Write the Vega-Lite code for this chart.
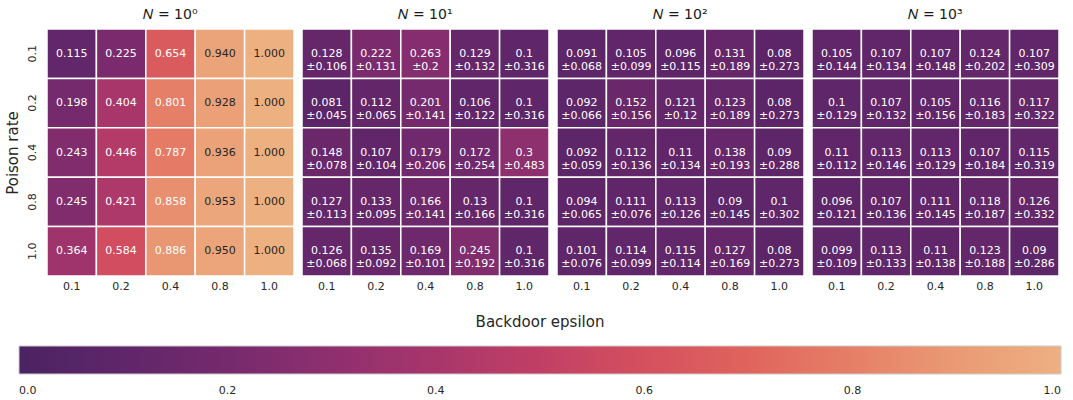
{
  "$schema": "https://vega.github.io/schema/vega-lite/v6.json",
  "padding": {"left": 5, "top": 8, "right": 5, "bottom": 5},
  "background": "white",
  "config": {
    "font": "DejaVu Sans",
    "view": {"stroke": null},
    "axis": {"domain": false, "ticks": false, "grid": false, "labelFontSize": 11, "labelColor": "#262626", "titleColor": "#262626", "titleFontWeight": "normal"},
    "header": {"labelFont": "DejaVu Sans"}
  },
  "data": {"values": [
    {"N":"𝑁 = 10⁰","r":"0.1","e":"0.1","v":0.115,"t":"0.115"},
    {"N":"𝑁 = 10⁰","r":"0.1","e":"0.2","v":0.225,"t":"0.225"},
    {"N":"𝑁 = 10⁰","r":"0.1","e":"0.4","v":0.654,"t":"0.654"},
    {"N":"𝑁 = 10⁰","r":"0.1","e":"0.8","v":0.940,"t":"0.940"},
    {"N":"𝑁 = 10⁰","r":"0.1","e":"1.0","v":1.000,"t":"1.000"},
    {"N":"𝑁 = 10⁰","r":"0.2","e":"0.1","v":0.198,"t":"0.198"},
    {"N":"𝑁 = 10⁰","r":"0.2","e":"0.2","v":0.404,"t":"0.404"},
    {"N":"𝑁 = 10⁰","r":"0.2","e":"0.4","v":0.801,"t":"0.801"},
    {"N":"𝑁 = 10⁰","r":"0.2","e":"0.8","v":0.928,"t":"0.928"},
    {"N":"𝑁 = 10⁰","r":"0.2","e":"1.0","v":1.000,"t":"1.000"},
    {"N":"𝑁 = 10⁰","r":"0.4","e":"0.1","v":0.243,"t":"0.243"},
    {"N":"𝑁 = 10⁰","r":"0.4","e":"0.2","v":0.446,"t":"0.446"},
    {"N":"𝑁 = 10⁰","r":"0.4","e":"0.4","v":0.787,"t":"0.787"},
    {"N":"𝑁 = 10⁰","r":"0.4","e":"0.8","v":0.936,"t":"0.936"},
    {"N":"𝑁 = 10⁰","r":"0.4","e":"1.0","v":1.000,"t":"1.000"},
    {"N":"𝑁 = 10⁰","r":"0.8","e":"0.1","v":0.245,"t":"0.245"},
    {"N":"𝑁 = 10⁰","r":"0.8","e":"0.2","v":0.421,"t":"0.421"},
    {"N":"𝑁 = 10⁰","r":"0.8","e":"0.4","v":0.858,"t":"0.858"},
    {"N":"𝑁 = 10⁰","r":"0.8","e":"0.8","v":0.953,"t":"0.953"},
    {"N":"𝑁 = 10⁰","r":"0.8","e":"1.0","v":1.000,"t":"1.000"},
    {"N":"𝑁 = 10⁰","r":"1.0","e":"0.1","v":0.364,"t":"0.364"},
    {"N":"𝑁 = 10⁰","r":"1.0","e":"0.2","v":0.584,"t":"0.584"},
    {"N":"𝑁 = 10⁰","r":"1.0","e":"0.4","v":0.886,"t":"0.886"},
    {"N":"𝑁 = 10⁰","r":"1.0","e":"0.8","v":0.950,"t":"0.950"},
    {"N":"𝑁 = 10⁰","r":"1.0","e":"1.0","v":1.000,"t":"1.000"},

    {"N":"𝑁 = 10¹","r":"0.1","e":"0.1","v":0.128,"t":"0.128\n±0.106"},
    {"N":"𝑁 = 10¹","r":"0.1","e":"0.2","v":0.222,"t":"0.222\n±0.131"},
    {"N":"𝑁 = 10¹","r":"0.1","e":"0.4","v":0.263,"t":"0.263\n±0.2"},
    {"N":"𝑁 = 10¹","r":"0.1","e":"0.8","v":0.129,"t":"0.129\n±0.132"},
    {"N":"𝑁 = 10¹","r":"0.1","e":"1.0","v":0.1,"t":"0.1\n±0.316"},
    {"N":"𝑁 = 10¹","r":"0.2","e":"0.1","v":0.081,"t":"0.081\n±0.045"},
    {"N":"𝑁 = 10¹","r":"0.2","e":"0.2","v":0.112,"t":"0.112\n±0.065"},
    {"N":"𝑁 = 10¹","r":"0.2","e":"0.4","v":0.201,"t":"0.201\n±0.141"},
    {"N":"𝑁 = 10¹","r":"0.2","e":"0.8","v":0.106,"t":"0.106\n±0.122"},
    {"N":"𝑁 = 10¹","r":"0.2","e":"1.0","v":0.1,"t":"0.1\n±0.316"},
    {"N":"𝑁 = 10¹","r":"0.4","e":"0.1","v":0.148,"t":"0.148\n±0.078"},
    {"N":"𝑁 = 10¹","r":"0.4","e":"0.2","v":0.107,"t":"0.107\n±0.104"},
    {"N":"𝑁 = 10¹","r":"0.4","e":"0.4","v":0.179,"t":"0.179\n±0.206"},
    {"N":"𝑁 = 10¹","r":"0.4","e":"0.8","v":0.172,"t":"0.172\n±0.254"},
    {"N":"𝑁 = 10¹","r":"0.4","e":"1.0","v":0.3,"t":"0.3\n±0.483"},
    {"N":"𝑁 = 10¹","r":"0.8","e":"0.1","v":0.127,"t":"0.127\n±0.113"},
    {"N":"𝑁 = 10¹","r":"0.8","e":"0.2","v":0.133,"t":"0.133\n±0.095"},
    {"N":"𝑁 = 10¹","r":"0.8","e":"0.4","v":0.166,"t":"0.166\n±0.141"},
    {"N":"𝑁 = 10¹","r":"0.8","e":"0.8","v":0.13,"t":"0.13\n±0.166"},
    {"N":"𝑁 = 10¹","r":"0.8","e":"1.0","v":0.1,"t":"0.1\n±0.316"},
    {"N":"𝑁 = 10¹","r":"1.0","e":"0.1","v":0.126,"t":"0.126\n±0.068"},
    {"N":"𝑁 = 10¹","r":"1.0","e":"0.2","v":0.135,"t":"0.135\n±0.092"},
    {"N":"𝑁 = 10¹","r":"1.0","e":"0.4","v":0.169,"t":"0.169\n±0.101"},
    {"N":"𝑁 = 10¹","r":"1.0","e":"0.8","v":0.245,"t":"0.245\n±0.192"},
    {"N":"𝑁 = 10¹","r":"1.0","e":"1.0","v":0.1,"t":"0.1\n±0.316"},

    {"N":"𝑁 = 10²","r":"0.1","e":"0.1","v":0.091,"t":"0.091\n±0.068"},
    {"N":"𝑁 = 10²","r":"0.1","e":"0.2","v":0.105,"t":"0.105\n±0.099"},
    {"N":"𝑁 = 10²","r":"0.1","e":"0.4","v":0.096,"t":"0.096\n±0.115"},
    {"N":"𝑁 = 10²","r":"0.1","e":"0.8","v":0.131,"t":"0.131\n±0.189"},
    {"N":"𝑁 = 10²","r":"0.1","e":"1.0","v":0.08,"t":"0.08\n±0.273"},
    {"N":"𝑁 = 10²","r":"0.2","e":"0.1","v":0.092,"t":"0.092\n±0.066"},
    {"N":"𝑁 = 10²","r":"0.2","e":"0.2","v":0.152,"t":"0.152\n±0.156"},
    {"N":"𝑁 = 10²","r":"0.2","e":"0.4","v":0.121,"t":"0.121\n±0.12"},
    {"N":"𝑁 = 10²","r":"0.2","e":"0.8","v":0.123,"t":"0.123\n±0.189"},
    {"N":"𝑁 = 10²","r":"0.2","e":"1.0","v":0.08,"t":"0.08\n±0.273"},
    {"N":"𝑁 = 10²","r":"0.4","e":"0.1","v":0.092,"t":"0.092\n±0.059"},
    {"N":"𝑁 = 10²","r":"0.4","e":"0.2","v":0.112,"t":"0.112\n±0.136"},
    {"N":"𝑁 = 10²","r":"0.4","e":"0.4","v":0.11,"t":"0.11\n±0.134"},
    {"N":"𝑁 = 10²","r":"0.4","e":"0.8","v":0.138,"t":"0.138\n±0.193"},
    {"N":"𝑁 = 10²","r":"0.4","e":"1.0","v":0.09,"t":"0.09\n±0.288"},
    {"N":"𝑁 = 10²","r":"0.8","e":"0.1","v":0.094,"t":"0.094\n±0.065"},
    {"N":"𝑁 = 10²","r":"0.8","e":"0.2","v":0.111,"t":"0.111\n±0.076"},
    {"N":"𝑁 = 10²","r":"0.8","e":"0.4","v":0.113,"t":"0.113\n±0.126"},
    {"N":"𝑁 = 10²","r":"0.8","e":"0.8","v":0.09,"t":"0.09\n±0.145"},
    {"N":"𝑁 = 10²","r":"0.8","e":"1.0","v":0.1,"t":"0.1\n±0.302"},
    {"N":"𝑁 = 10²","r":"1.0","e":"0.1","v":0.101,"t":"0.101\n±0.076"},
    {"N":"𝑁 = 10²","r":"1.0","e":"0.2","v":0.114,"t":"0.114\n±0.099"},
    {"N":"𝑁 = 10²","r":"1.0","e":"0.4","v":0.115,"t":"0.115\n±0.114"},
    {"N":"𝑁 = 10²","r":"1.0","e":"0.8","v":0.127,"t":"0.127\n±0.169"},
    {"N":"𝑁 = 10²","r":"1.0","e":"1.0","v":0.08,"t":"0.08\n±0.273"},

    {"N":"𝑁 = 10³","r":"0.1","e":"0.1","v":0.105,"t":"0.105\n±0.144"},
    {"N":"𝑁 = 10³","r":"0.1","e":"0.2","v":0.107,"t":"0.107\n±0.134"},
    {"N":"𝑁 = 10³","r":"0.1","e":"0.4","v":0.107,"t":"0.107\n±0.148"},
    {"N":"𝑁 = 10³","r":"0.1","e":"0.8","v":0.124,"t":"0.124\n±0.202"},
    {"N":"𝑁 = 10³","r":"0.1","e":"1.0","v":0.107,"t":"0.107\n±0.309"},
    {"N":"𝑁 = 10³","r":"0.2","e":"0.1","v":0.1,"t":"0.1\n±0.129"},
    {"N":"𝑁 = 10³","r":"0.2","e":"0.2","v":0.107,"t":"0.107\n±0.132"},
    {"N":"𝑁 = 10³","r":"0.2","e":"0.4","v":0.105,"t":"0.105\n±0.156"},
    {"N":"𝑁 = 10³","r":"0.2","e":"0.8","v":0.116,"t":"0.116\n±0.183"},
    {"N":"𝑁 = 10³","r":"0.2","e":"1.0","v":0.117,"t":"0.117\n±0.322"},
    {"N":"𝑁 = 10³","r":"0.4","e":"0.1","v":0.11,"t":"0.11\n±0.112"},
    {"N":"𝑁 = 10³","r":"0.4","e":"0.2","v":0.113,"t":"0.113\n±0.146"},
    {"N":"𝑁 = 10³","r":"0.4","e":"0.4","v":0.113,"t":"0.113\n±0.129"},
    {"N":"𝑁 = 10³","r":"0.4","e":"0.8","v":0.107,"t":"0.107\n±0.184"},
    {"N":"𝑁 = 10³","r":"0.4","e":"1.0","v":0.115,"t":"0.115\n±0.319"},
    {"N":"𝑁 = 10³","r":"0.8","e":"0.1","v":0.096,"t":"0.096\n±0.121"},
    {"N":"𝑁 = 10³","r":"0.8","e":"0.2","v":0.107,"t":"0.107\n±0.136"},
    {"N":"𝑁 = 10³","r":"0.8","e":"0.4","v":0.111,"t":"0.111\n±0.145"},
    {"N":"𝑁 = 10³","r":"0.8","e":"0.8","v":0.118,"t":"0.118\n±0.187"},
    {"N":"𝑁 = 10³","r":"0.8","e":"1.0","v":0.126,"t":"0.126\n±0.332"},
    {"N":"𝑁 = 10³","r":"1.0","e":"0.1","v":0.099,"t":"0.099\n±0.109"},
    {"N":"𝑁 = 10³","r":"1.0","e":"0.2","v":0.113,"t":"0.113\n±0.133"},
    {"N":"𝑁 = 10³","r":"1.0","e":"0.4","v":0.11,"t":"0.11\n±0.138"},
    {"N":"𝑁 = 10³","r":"1.0","e":"0.8","v":0.123,"t":"0.123\n±0.188"},
    {"N":"𝑁 = 10³","r":"1.0","e":"1.0","v":0.09,"t":"0.09\n±0.286"}
  ]},
  "facet": {
    "column": {
      "field": "N", "type": "nominal",
      "sort": ["𝑁 = 10⁰", "𝑁 = 10¹", "𝑁 = 10²", "𝑁 = 10³"],
      "header": {"title": null, "labelFontSize": 14, "labelColor": "#1a1a1a", "labelPadding": 6}
    }
  },
  "spacing": {"column": 6},
  "spec": {
    "width": 247,
    "height": 247,
    "encoding": {
      "x": {"field": "e", "type": "ordinal", "sort": ["0.1","0.2","0.4","0.8","1.0"],
            "scale": {"paddingInner": 0, "paddingOuter": 0},
            "axis": {"title": null, "labelAngle": 0, "labelPadding": 3}},
      "y": {"field": "r", "type": "ordinal", "sort": ["0.1","0.2","0.4","0.8","1.0"],
            "scale": {"paddingInner": 0, "paddingOuter": 0},
            "axis": {"title": "Poison rate", "titleFontSize": 15, "titlePadding": 6,
                     "labelAngle": 270, "labelAlign": "center", "labelBaseline": "bottom", "labelPadding": 9}}
    },
    "layer": [
      {
        "mark": {"type": "rect", "stroke": "white", "strokeWidth": 1.5},
        "encoding": {
          "color": {"field": "v", "type": "quantitative",
            "scale": {"domain": [0, 1], "interpolate": "rgb",
              "range": ["#4b2362", "#5f2669", "#752a6d", "#8e2f6e", "#a8366b", "#c13f65", "#d4505e", "#e0645d", "#e67f67", "#ea9a74", "#edb081"]},
            "legend": {"orient": "none", "direction": "horizontal", "legendX": -28, "legendY": 286,
              "gradientLength": 1042, "gradientThickness": 28,
              "gradientStrokeColor": "#cccccc", "gradientStrokeWidth": 1,
              "title": "Backdoor epsilon", "titleOrient": "top", "titleAnchor": "middle",
              "titleFontSize": 15, "titleFontWeight": "normal", "titleColor": "#262626", "titlePadding": 16,
              "values": [0, 0.2, 0.4, 0.6, 0.8, 1], "format": ".1f", "labelAlign": "center",
              "labelFontSize": 11, "labelColor": "#262626", "labelOffset": 11}}
        }
      },
      {
        "mark": {"type": "text", "fontSize": 11, "lineBreak": "\n", "lineHeight": 13, "align": "center", "baseline": "middle"},
        "encoding": {
          "text": {"field": "t"},
          "color": {"condition": {"test": "datum.v > 0.9", "value": "#262626"}, "value": "#ffffff"}
        }
      }
    ]
  }
}
